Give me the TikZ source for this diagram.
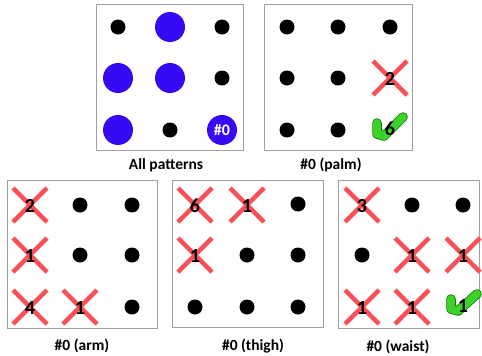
\documentclass[tikz,border=0pt]{standalone}
\usepackage{fontspec}
\setmainfont{Carlito}
\definecolor{xred}{RGB}{250,80,85}
\definecolor{pblue}{RGB}{55,10,245}
\definecolor{ckgreen}{RGB}{60,210,40}
\definecolor{boxgray}{RGB}{160,160,160}
\begin{document}
\begin{tikzpicture}[x=1pt,y=-1pt,
  panel/.style={draw=boxgray,line width=0.9pt},
  sdot/.style={circle,fill=black,inner sep=0pt,minimum size=15pt},
  bdot/.style={circle,fill=pblue,inner sep=0pt,minimum size=30pt},
  num/.style={font=\bfseries\fontsize{20}{20}\selectfont,inner sep=0pt},
  captxt/.style={font=\bfseries\fontsize{15.5}{15.5}\selectfont,inner sep=0pt},
  xline/.style={draw=xred,line width=4.5pt},
  ckout/.style={draw=black!55!green,line width=9.5pt,line cap=round,line join=round},
  ckin/.style={draw=ckgreen,line width=8pt,line cap=round,line join=round}]
\useasboundingbox (0,0) rectangle (482,356);
% ---------- Panel 1: All patterns
\draw[panel] (96,4) rectangle (243,150);
\node[sdot] (a11) at (118,27) {};
\node[bdot] (a12) at (170,27) {};
\node[sdot] (a13) at (222,27) {};
\node[bdot] (a21) at (118,78) {};
\node[bdot] (a22) at (170,78) {};
\node[sdot] (a23) at (222,78) {};
\node[bdot] (a31) at (118,130) {};
\node[sdot] (a32) at (170,130) {};
\node[bdot] (a33) at (222,130) {};
\node[font=\bfseries\fontsize{16}{16}\selectfont,text=white,inner sep=0pt] (a33t) at (222,130) {\#0};
\node[captxt] (c1) at (166,165) {All patterns};
% ---------- Panel 2: palm
\draw[panel] (264,4) rectangle (412,150);
\node[sdot] (b11) at (287,27) {};
\node[sdot] (b12) at (338,27) {};
\node[sdot] (b13) at (390,27) {};
\node[sdot] (b21) at (287,78) {};
\node[sdot] (b22) at (338,78) {};
\draw[xline] (373,61) -- (407,95);
\draw[xline] (407,61) -- (373,95);
\node[num] (b23) at (390,79) {2};
\node[sdot] (b31) at (287,130) {};
\node[sdot] (b32) at (338,130) {};
\draw[ckout] (377,123) -- (377,134) -- (384,136) -- (403,117);
\draw[ckin] (377,123) -- (377,134) -- (384,136) -- (403,117);
\node[num] (b33) at (390,129) {6};
\node[captxt] (c2) at (331,165) {\#0 (palm)};
% ---------- Panel 3: arm
\draw[panel] (7,180) rectangle (157,328);
\draw[xline] (13,188) -- (47,222);
\draw[xline] (47,188) -- (13,222);
\node[num] (d11) at (30,206) {2};
\node[sdot] (d12) at (80,205) {};
\node[sdot] (d13) at (132,205) {};
\draw[xline] (13,238) -- (47,272);
\draw[xline] (47,238) -- (13,272);
\node[num] (d21) at (30,256) {1};
\node[sdot] (d22) at (80,255) {};
\node[sdot] (d23) at (132,255) {};
\draw[xline] (13,290) -- (47,324);
\draw[xline] (47,290) -- (13,324);
\node[num] (d31) at (30,308) {4};
\draw[xline] (63,290) -- (97,324);
\draw[xline] (97,290) -- (63,324);
\node[num] (d32) at (80,308) {1};
\node[sdot] (d33) at (132,307) {};
\node[captxt] (c3) at (82,346) {\#0 (arm)};
% ---------- Panel 4: thigh
\draw[panel] (172,180) rectangle (323,327);
\draw[xline] (178,188) -- (212,222);
\draw[xline] (212,188) -- (178,222);
\node[num] (e11) at (195,206) {6};
\draw[xline] (230,188) -- (264,222);
\draw[xline] (264,188) -- (230,222);
\node[num] (e12) at (247,206) {1};
\node[sdot] (e13) at (298,204) {};
\draw[xline] (178,238) -- (212,272);
\draw[xline] (212,238) -- (178,272);
\node[num] (e21) at (195,256) {1};
\node[sdot] (e22) at (247,255) {};
\node[sdot] (e23) at (298,255) {};
\node[sdot] (e31) at (195,307) {};
\node[sdot] (e32) at (247,307) {};
\node[sdot] (e33) at (298,307) {};
\node[captxt] (c4) at (253,346) {\#0 (thigh)};
% ---------- Panel 5: waist
\draw[panel] (338,180) rectangle (479,328);
\draw[xline] (345,188) -- (379,222);
\draw[xline] (379,188) -- (345,222);
\node[num] (f11) at (362,206) {3};
\node[sdot] (f12) at (412,205) {};
\node[sdot] (f13) at (463,205) {};
\node[sdot] (f21) at (362,255) {};
\draw[xline] (395,238) -- (429,272);
\draw[xline] (429,238) -- (395,272);
\node[num] (f22) at (412,256) {1};
\draw[xline] (446,238) -- (480,272);
\draw[xline] (480,238) -- (446,272);
\node[num] (f23) at (463,256) {1};
\draw[xline] (345,290) -- (379,324);
\draw[xline] (379,290) -- (345,324);
\node[num] (f31) at (362,308) {1};
\draw[xline] (395,290) -- (429,324);
\draw[xline] (429,290) -- (395,324);
\node[num] (f32) at (412,308) {1};
\draw[ckout] (451,299) -- (451,309) -- (458,311) -- (477,294);
\draw[ckin] (451,299) -- (451,309) -- (458,311) -- (477,294);
\node[num] (f33) at (463,306) {1};
\node[captxt] (c5) at (398,347) {\#0 (waist)};
\end{tikzpicture}
\end{document}
